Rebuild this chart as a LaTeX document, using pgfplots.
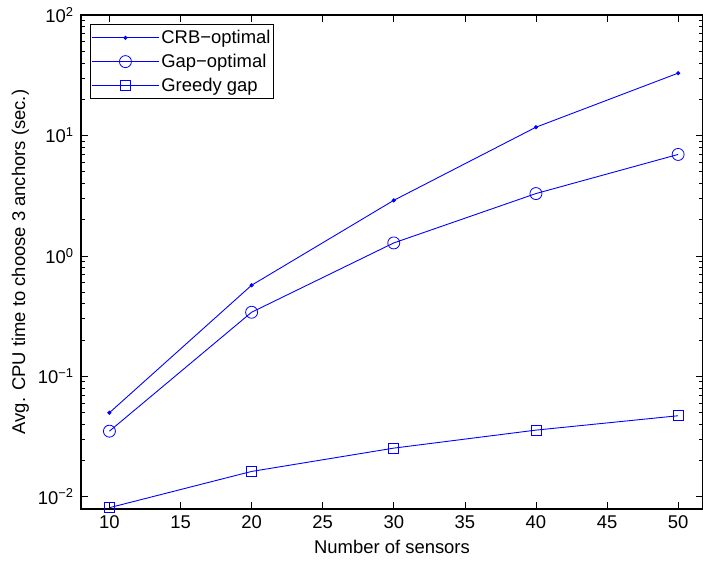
\documentclass[border=0pt]{standalone}
\usepackage{fontspec}
\setmainfont{Liberation Sans}
\usepackage{pgfplots}
\pgfplotsset{compat=1.18}
\usetikzlibrary{calc}
\newcommand{\bigf}{\fontsize{18.5}{21}\selectfont}
\begin{document}
\begin{tikzpicture}
\begin{axis}[
  name=ax,
  scale only axis,
  width=622bp, height=494bp,
  ymode=log,
  xmin=8, xmax=51.75,
  ymin=0.0079, ymax=100,
  xtick={10,15,20,25,30,35,40,45,50},
  ytick={0.01,0.1,1,10,100},
  yticklabels={{10\textsuperscript{−2}},{10\textsuperscript{−1}},{10\textsuperscript{0}},{10\textsuperscript{1}},{10\textsuperscript{2}}},
  /pgf/number format/assume math mode=true,
  tick label style={font=\bigf},
  xticklabel style={yshift=-3bp},
  yticklabel style={xshift=-4bp},
  label style={font=\bigf},
  tick style={black, line width=0.6pt},
  major tick length=7bp,
  minor tick length=4bp,
  axis line style={line width=1.2pt},
  xlabel={Number of sensors},
  ylabel={Avg. CPU time to choose 3 anchors (sec.)},
  xlabel style={yshift=-5bp},
  ylabel style={yshift=2bp},
  legend style={at={(0.0145,0.982)}, anchor=north west, draw=black, line width=1pt, inner xsep=1pt, inner ysep=4pt, row sep=5pt, font=\bigf, /tikz/every even column/.append style={column sep=8bp}},
  legend cell align=left,
  legend image code/.code={\draw[mark repeat=2,mark phase=2,#1] plot coordinates {(0bp,0bp) (33.5bp,0bp) (67bp,0bp)};},
]
\addplot[blue, line width=0.9pt, mark=*, mark size=1.6bp, mark options={solid, blue}] coordinates {
 (10,0.0498) (20,0.57) (30,2.89) (40,11.7) (50,32.9)};
\addlegendentry{CRB−optimal}
\addplot[blue, line width=0.9pt, mark=o, mark size=6bp, mark options={solid, blue, line width=0.8pt}] coordinates {
 (10,0.035) (20,0.34) (30,1.28) (40,3.29) (50,6.95)};
\addlegendentry{Gap−optimal}
\addplot[blue, line width=0.9pt, mark=square, mark size=5bp, mark options={solid, blue, line width=0.8pt}] coordinates {
 (10,0.0081) (20,0.0162) (30,0.0253) (40,0.0357) (50,0.047)};
\addlegendentry{Greedy gap}
\end{axis}
\pgfresetboundingbox
\useasboundingbox ($(ax.south west)+(-81bp,-53bp)$) rectangle ($(ax.north east)+(0bp,15bp)$);
\end{tikzpicture}
\end{document}
